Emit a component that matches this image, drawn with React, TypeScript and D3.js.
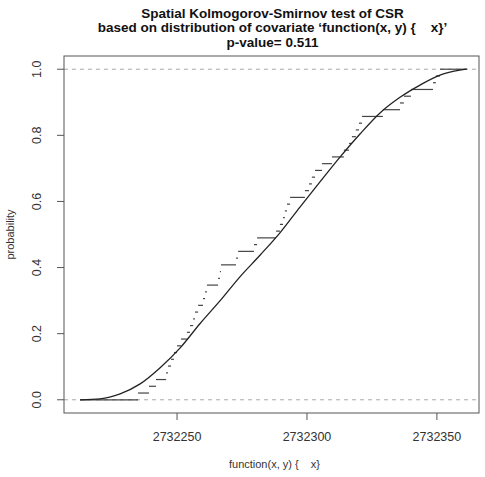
import React from "react";
import * as d3 from "d3";

// Theoretical CDF of covariate
const theoX = [2732212.7, 2732220.4, 2732228.1, 2732235.8, 2732243.5, 2732251.2, 2732258.8, 2732266.5, 2732274.2, 2732282.0, 2732289.6, 2732297.3, 2732305.0, 2732312.7, 2732320.4, 2732328.0, 2732335.8, 2732343.5, 2732351.2, 2732358.8, 2732361.5];
const theoP = [0, 0.003, 0.018, 0.048, 0.097, 0.157, 0.230, 0.299, 0.372, 0.438, 0.505, 0.583, 0.659, 0.734, 0.804, 0.867, 0.915, 0.952, 0.982, 0.997, 1.0];

// Observed covariate values (sorted) at data points
const observed = [
  2732235.0, 2732239.2, 2732241.9, 2732245.8, 2732246.5, 2732247.7, 2732248.8, 2732250.0, 2732251.5, 2732253.8,
  2732255.0, 2732256.2, 2732256.9, 2732258.1, 2732260.0, 2732260.8, 2732261.5, 2732265.8, 2732266.5, 2732266.9,
  2732272.7, 2732273.5, 2732279.6, 2732280.8, 2732288.1, 2732289.6, 2732290.8, 2732291.5, 2732292.3, 2732293.5,
  2732299.2, 2732300.8, 2732301.9, 2732303.1, 2732305.8, 2732309.6, 2732314.2, 2732316.2, 2732317.3, 2732318.8,
  2732320.0, 2732321.2, 2732329.2, 2732335.8, 2732337.3, 2732340.0, 2732348.5, 2732349.6, 2732351.2,
];

const xTicks = [2732250, 2732300, 2732350];
const yTicks = [0, 0.2, 0.4, 0.6, 0.8, 1.0];
const titleLines = [
  "Spatial Kolmogorov-Smirnov test of CSR",
  "based on distribution of covariate \u2018function(x, y) {    x}\u2019",
  "p-value= 0.511",
];
const xLabel = "function(x, y) {    x}";
const yLabel = "probability";

const W = 485, H = 477;
const L = 64, R = 479, T = 56, B = 413;
const font = "'Liberation Sans', Arial, sans-serif";

export default function App() {
  const x = d3.scaleLinear().domain([2732206.5, 2732366.2]).range([L, R]);
  const y = d3.scaleLinear().domain([-0.04, 1.04]).range([B, T]);

  const theo = theoX.map((v, i) => [v, theoP[i]] as [number, number]);
  const line = d3.line<[number, number]>().x(d => x(d[0])).y(d => y(d[1])).curve(d3.curveMonotoneX);

  const n = observed.length;
  const xmin = theoX[0], xmax = theoX[theoX.length - 1];
  const knots = [xmin, ...observed, xmax];
  const segs = d3.range(n + 1).map(k => ({ x0: knots[k], x1: knots[k + 1], p: k / n }));

  return (
    <svg width={W} height={H} style={{ position: "absolute", left: 0, top: 0, background: "#fff" }} fontFamily={font}>
      <rect x={0} y={0} width={W} height={H} fill="#fff" />
      {titleLines.map((t, i) => (
        <text key={i} x={(L + R) / 2 + 1} y={17.5 + i * 14.5} textAnchor="middle" fontWeight="bold" fontSize={13.5} fill="#111" style={{ whiteSpace: "pre" }}>{t}</text>
      ))}
      {/* reference lines */}
      {[0, 1].map(v => (
        <line key={v} x1={L} x2={R} y1={y(v)} y2={y(v)} stroke="#aaa" strokeDasharray="4,4" strokeWidth={1} />
      ))}
      {/* ecdf */}
      {segs.map((s, i) => (
        <line key={i} x1={x(s.x0)} x2={x(s.x1)} y1={y(s.p)} y2={y(s.p)} stroke="#444" strokeWidth={1.2} />
      ))}
      {/* theoretical */}
      <path d={line(theo) || ""} fill="none" stroke="#222" strokeWidth={1.3} />
      {/* frame */}
      <rect x={L} y={T} width={R - L} height={B - T} fill="none" stroke="#555" strokeWidth={1} />
      {/* x axis */}
      {xTicks.map(t => (
        <g key={t}>
          <line x1={x(t)} x2={x(t)} y1={B} y2={B + 7} stroke="#555" />
          <text x={x(t)} y={441} textAnchor="middle" fontSize={12.5} fill="#333">{t}</text>
        </g>
      ))}
      <text x={(L + R) / 2 + 3} y={468} textAnchor="middle" fontSize={11} fill="#333" style={{ whiteSpace: "pre" }}>{xLabel}</text>
      {/* y axis */}
      {yTicks.map(t => (
        <g key={t}>
          <line x1={L - 7} x2={L} y1={y(t)} y2={y(t)} stroke="#555" />
          <text transform={`translate(${41},${y(t)}) rotate(-90)`} textAnchor="middle" fontSize={12.5} fill="#333">{t.toFixed(1)}</text>
        </g>
      ))}
      <text transform={`translate(${14},${(T + B) / 2}) rotate(-90)`} textAnchor="middle" fontSize={11} fill="#333">{yLabel}</text>
    </svg>
  );
}
